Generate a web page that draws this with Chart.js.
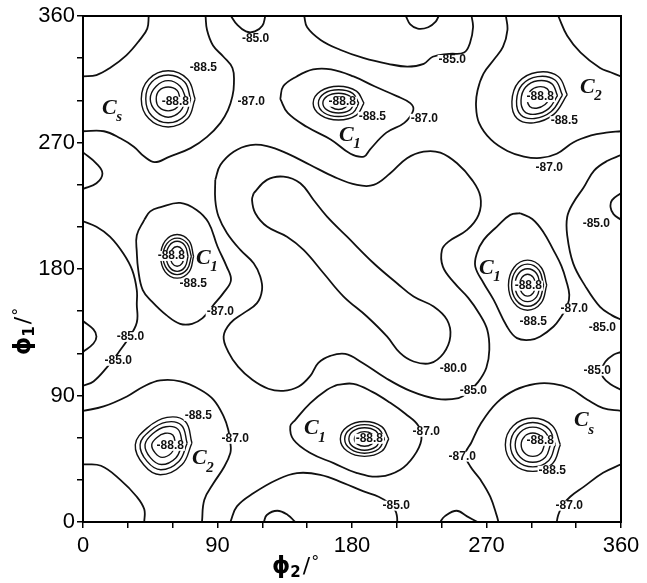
<!DOCTYPE html>
<html><head><meta charset="utf-8">
<script src="https://cdn.jsdelivr.net/npm/chart.js@4"></script>
<style>html,body{margin:0;padding:0;background:#fff}canvas{display:block}</style>
</head><body>
<canvas id="c" width="647" height="583"></canvas>
<script>
// ---- axis ticks (degrees) ----
const tickLabels = [0, 90, 180, 270, 360];
const tickStep = 30;

// ---- contour lines: [phi2, phi1] in degrees ----
const cornerTL = [[44,360],[43,351],[38,343],[29,332],[18,323],[9,318],[0,317]];
const cornerTR = [[318,360],[324,346],[333,334],[346,323],[353,320],[360,317]];
const csTLOuter = [[82,360],[83,350],[87,339],[94,331],[100,323],[101,312],[100,303],[97,293],[92,284],[83,274],[72,266],[58,260],[48,256],[41,260],[34,267],[25,273],[14,278],[0,278]];
const c2TROuter = [[283,360],[284,350],[281,338],[275,329],[268,319],[264,307],[263,296],[265,284],[273,272],[284,264],[295,260],[306,259],[317,262],[328,270],[340,275],[350,277],[360,278]];
const topBumpA = [[99,360],[103,354],[109,349],[115,349],[120,353],[122,360]];
const topU85 = [[148,360],[150,352],[159,343],[172,336],[188,330],[204,326],[217,324],[228,326],[234,331],[245,333],[255,334],[259,341],[261,352],[260,360]];
const topBumpB = [[216,360],[219,354],[224,351],[231,352],[236,356],[238,360]];
const c1TopOuter = [[132,301],[134,310],[143,317],[154,322],[166,322],[181,317],[195,310],[210,303],[219,298],[221,293],[215,284],[203,277],[192,265],[188,260],[179,262],[166,272],[150,281],[137,291],[132,301]];
const leftBumpUpper = [[0,263],[9,255],[13,248],[9,241],[0,237]];
const left85 = [[0,214],[9,210],[18,203],[27,191],[33,179],[36,165],[36,155],[36,142],[30,130],[24,121],[16,110],[7,100],[0,97]];
const leftBumpLower = [[0,143],[7,137],[9,132],[7,127],[0,121]];
const c1LeftOuter = [[41,215],[45,221],[52,224],[65,227],[76,222],[84,213],[90,196],[96,182],[99,172],[94,163],[87,154],[80,145],[73,141],[65,141],[56,147],[46,157],[40,165],[37,179],[36,192],[36,204],[41,215]];
const ridge85 = [[88.5,243.4],[91.9,254],[100.8,263.5],[112,268.2],[123.1,267.5],[136.5,262.3],[152.1,254],[167.7,245.7],[183.4,239.8],[194.5,239.8],[205.6,248.1],[216.8,258.8],[227.9,263.5],[239.1,262.8],[250.3,255.2],[260.3,243.4],[265.9,231.5],[264.7,218.5],[257,207.8],[244.6,199.5],[240.2,193.6],[240.8,181.7],[248.5,170.1],[257.8,159.5],[265.2,148.2],[270.5,136.8],[271.9,122.5],[269.9,109.7],[264.5,99.7],[257.8,92.6],[251.3,88.2],[236.9,87.6],[219,93.3],[202.3,102.6],[186.9,113.3],[175.5,119.6],[165.5,118.2],[157.5,113.2],[152.1,104],[144.1,96.2],[134,93.3],[124,94.8],[113.3,101.2],[103.9,110.4],[97.2,121.1],[94.1,132],[98.6,141.5],[107.5,148.6],[116.4,155.7],[119.8,165.2],[118.6,174.6],[114.2,184.1],[105.3,193.6],[96.4,205.5],[90.7,217.3],[88.5,229.1],[88.5,243.4]];
const ridge80 = [[114.2,233.9],[123.1,243.4],[134.2,245.7],[145.4,241],[154.3,229.1],[163.3,217.3],[176.7,203],[194.5,184.1],[210.1,169.9],[221.2,160.4],[234.6,153.3],[243.6,143.8],[245.8,132],[241.3,120.1],[232.4,113],[221.2,114.2],[212.3,120.1],[203.4,132],[190,146.2],[174.4,160.4],[161,177],[147.6,193.6],[136.5,203],[123.1,210.2],[115.3,219.7],[113.1,229.1],[114.2,233.9]];
const c1RightOuter = [[292.6,219.7],[300.6,215.6],[308,206.4],[314.7,193.6],[320.1,182.2],[323.4,171.5],[325.4,161.6],[324.1,153.8],[319.4,145.2],[314.9,139.1],[306,132],[299.3,129.6],[290.4,130.8],[283.7,139.1],[274.8,158],[268.1,169.9],[262.5,181.7],[263.6,191.2],[268.1,200.7],[277,210.2],[285.9,218.5],[292.6,219.7]];
const right85 = [[360,261],[351,257],[342,250],[335,238],[328,227],[324,217],[324,204],[328,184],[336,168],[346,153],[354,147],[360,144]];
const rightBumpUpper = [[360,234],[354,229],[353,224],[355,219],[360,215]];
const rightBumpLower = [[360,121],[355,119],[349.5,114],[347,108],[348,103],[353,98],[360,94]];
const csBROuter = [[360,79],[348,81],[337.5,87],[326,95],[315,98.3],[302.7,98.3],[289.3,94],[277,85],[266.5,70.6],[259.8,56.4],[255.8,48],[259.2,39.5],[266,30],[272.5,18],[277,4],[278,0]];
const c2BLOuter = [[0,79],[13.8,82.2],[29.4,89.3],[40.6,96.4],[51.7,100.7],[65.1,100],[78.5,94.1],[87.4,86.9],[94.1,75.1],[97.2,65.6],[98.6,56.4],[98.6,49.1],[94.1,38.6],[87.4,27.7],[81.2,15.9],[79.6,0]];
const cornerBL = [[0,41],[12,40],[25,30],[36,18],[41,9],[41,0]];
const cornerBR = [[360,41],[348,35],[335,25],[326,18],[321,12],[318,5],[317,0]];
const bottom85 = [[98.6,0],[103,11.1],[114.2,20.6],[129.8,30.1],[143.2,34.8],[158.8,33.6],[174.4,27.7],[187.8,21.8],[197.8,18],[204.3,13.7],[209,8],[210.1,4],[210.3,0]];
const bottomBumpA = [[121,0],[123,5],[130,8],[137,5],[142,0]];
const bottomBumpB = [[239,0],[242,4],[250,8],[257,4],[264,0]];
const c1BottomOuter = [[170,97.6],[180.9,98.3],[193.6,92.6],[205.6,84.8],[215.7,77],[224.4,68.5],[226.4,58.5],[221.2,46.6],[212.3,37.2],[198.9,32.4],[183.4,34.8],[167.7,41.9],[152.1,49.1],[140.9,58.5],[138.7,68],[142.1,72.7],[152.1,84.6],[163.3,94.1],[170,97.6]];

// ---- closed rings around the eight minima ----
const ringsCsTL = [
 [[75,301],[70,315],[57,321],[44,315],[39,301],[44,287],[57,281],[70,287],[75,301]],
 [[72,301],[68,313],[57,318],[46,313],[42,301],[46,289],[57,284],[68,289],[72,301]],
 [[69,301],[65,310],[57,314],[49,310],[45,301],[49,292],[57,288],[65,292],[69,301]],
 [[65,301],[63,307],[57,309.5],[51,307],[49,301],[51,295],[57,292.5],[63,295],[65,301]]];
const ringsC1Top = [
 [[188,298],[183,306.5],[171,310],[159,306.5],[154,298],[159,289.5],[171,286],[183,289.5],[188,298]],
 [[184.5,298],[180.5,305],[171,307.5],[161.5,305],[157.5,298],[161.5,291],[171,288.5],[180.5,291],[184.5,298]],
 [[181.5,298],[178.5,303],[171,305],[163.5,303],[160.5,298],[163.5,293],[171,291],[178.5,293],[181.5,298]],
 [[177.5,298],[175.5,301],[171,302.5],[166.5,301],[164.5,298],[166.5,295],[171,293.5],[175.5,295],[177.5,298]]];
const ringsC2TR = [
 [[324,304],[318,317],[304,320],[291.5,313],[287,299],[290.5,287],[301.5,284],[315,290],[324,304]],
 [[320.8,303.7],[315.8,314.5],[304.2,316.9],[293.8,311.1],[290.1,299.5],[293,289.5],[302.1,287.1],[313.3,292],[320.8,303.7]],
 [[317.5,303.3],[313.6,311.9],[304.3,313.9],[296.1,309.3],[293.1,300],[295.4,292.1],[302.7,290.1],[311.6,294.1],[317.5,303.3]],
 [[313,302.8],[310.5,308.3],[304.6,309.6],[299.3,306.6],[297.4,300.7],[298.9,295.7],[303.5,294.4],[309.2,297],[313,302.8]]];
const ringsC1Left = [
 [[74,189],[71,200],[63,204.5],[55,200],[52,189],[55,178],[63,173.5],[71,178],[74,189]],
 [[72.5,189],[69.7,198.2],[63,202],[56.3,198.2],[53.5,189],[56.3,179.8],[63,176],[69.7,179.8],[72.5,189]],
 [[70.3,189],[68.2,196.6],[63,199.7],[57.8,196.6],[55.7,189],[57.8,181.4],[63,178.3],[68.2,181.4],[70.3,189]],
 [[67.7,189],[66.3,194],[63,196],[59.7,194],[58.3,189],[59.7,184],[63,182],[66.3,184],[67.7,189]]];
const ringsC1Right = [
 [[310.3,168.5],[306.6,181.1],[297.5,186.3],[288.4,181.1],[284.7,168.5],[288.4,155.9],[297.5,150.7],[306.6,155.9],[310.3,168.5]],
 [[308.2,168.5],[305.1,179.2],[297.5,183.5],[289.9,179.2],[286.8,168.5],[289.9,157.8],[297.5,153.5],[305.1,157.8],[308.2,168.5]],
 [[305.9,168.5],[303.5,176.8],[297.5,180.2],[291.5,176.8],[289.1,168.5],[291.5,160.2],[297.5,156.8],[303.5,160.2],[305.9,168.5]],
 [[302.9,168.5],[301.3,174],[297.5,176.3],[293.7,174],[292.1,168.5],[293.7,163],[297.5,160.7],[301.3,163],[302.9,168.5]]];
const ringsC2BL = [
 [[72.9,56.2],[68.5,71.5],[56.2,74.4],[42.8,66.8],[35,55],[40.6,40.7],[51.7,33.6],[66.2,40.7],[72.9,56.2]],
 [[69.7,56],[66,68.7],[55.8,71.1],[44.7,64.8],[38.2,55],[42.9,43.1],[52.1,37.2],[64.1,43.1],[69.7,56]],
 [[66.5,55.8],[63.6,65.9],[55.5,67.8],[46.6,62.8],[41.5,55],[45.2,45.6],[52.5,40.9],[62.1,45.6],[66.5,55.8]],
 [[61.9,55.5],[60.1,61.9],[54.9,63.1],[49.3,60],[46,55],[48.4,49],[53,46],[59.1,49],[61.9,55.5]]];
const ringsC1Bottom = [
 [[204.6,59.1],[199.9,67.9],[188.4,71.5],[176.9,67.9],[172.2,59.1],[176.9,50.3],[188.4,46.7],[199.9,50.3],[204.6,59.1]],
 [[201.7,59.1],[197.8,66.3],[188.4,69.3],[179,66.3],[175.1,59.1],[179,51.9],[188.4,48.9],[197.8,51.9],[201.7,59.1]],
 [[198.9,59.1],[195.9,64.8],[188.4,67.1],[180.9,64.8],[177.9,59.1],[180.9,53.4],[188.4,51.1],[195.9,53.4],[198.9,59.1]],
 [[195.2,59.1],[193.2,62.8],[188.4,64.3],[183.6,62.8],[181.6,59.1],[183.6,55.4],[188.4,53.9],[193.2,55.4],[195.2,59.1]]];
const ringsCsBR = [
 [[319.4,55],[314.1,68.5],[301,74],[287.9,68.5],[282.6,55],[287.9,41.5],[301,36],[314.1,41.5],[319.4,55]],
 [[316,55],[311.7,66.2],[301,70.8],[290.3,66.2],[286,55],[290.3,43.8],[301,39.2],[311.7,43.8],[316,55]],
 [[312.8,55],[309.4,63.9],[301,67.5],[292.6,63.9],[289.2,55],[292.6,46.1],[301,42.5],[309.4,46.1],[312.8,55]],
 [[308.8,55],[306.5,60.9],[301,63.3],[295.5,60.9],[293.2,55],[295.5,49.1],[301,46.7],[306.5,49.1],[308.8,55]]];

// ---- contour level labels ----
const levelText = ["-85.0","-88.5","-88.8","-87.0","-85.0","-88.8","-88.5","-87.0","-88.8","-88.5","-87.0","-85.0","-88.8","-88.5","-87.0","-88.8","-88.5","-87.0","-85.0","-85.0","-85.0","-80.0","-85.0","-85.0","-88.5","-88.8","-87.0","-88.8","-87.0","-85.0","-88.8","-88.5","-87.0","-87.0"];
const levelPhi2 = [115.5,80.5,61.8,112.6,247.1,173.5,193.6,228.4,306,322.1,312,343.5,59.1,73.8,91.9,298,301.3,328.7,347.5,31.7,23.6,247.8,261.2,344.1,77.2,58.4,101.9,191.6,229.7,209.6,306,314,253.8,325.4];
const levelPhi1 = [344,322.9,299,299,328.7,299,288.3,286.9,302.3,285.2,251.9,212.1,189.3,169.4,149.5,168.1,142.5,151.8,138.1,131.7,114.7,109,93.3,107.6,75.6,54.2,59.2,59.2,64.2,11.6,57.8,36.5,46.5,11.6];

// ---- conformer labels ----
const confSub = ["s","1","2","1","1","1","2","s"];
const confPhi2 = [20.3,178.9,340.1,83.2,272.5,155.4,80.5,336.1];
const confPhi1 = [293.1,274,308,186.5,179.4,64.9,43.6,70.6];

const contourLines = [cornerTL,cornerTR,csTLOuter,c2TROuter,topBumpA,topU85,topBumpB,c1TopOuter,leftBumpUpper,left85,leftBumpLower,c1LeftOuter,ridge85,ridge80,c1RightOuter,right85,rightBumpUpper,rightBumpLower,csBROuter,c2BLOuter,cornerBL,cornerBR,bottom85,bottomBumpA,bottomBumpB,c1BottomOuter];
const wellRings = [].concat(ringsCsTL,ringsC1Top,ringsC2TR,ringsC1Left,ringsC1Right,ringsC2BL,ringsC1Bottom,ringsCsBR);

const mk = (pts, w) => ({data: pts.map(p => ({x:p[0], y:p[1]})), showLine:true, borderColor:'#111', borderWidth:w, pointRadius:0, tension:0.4, fill:false});
const datasets = contourLines.map(p => mk(p,1.8)).concat(wellRings.map(p => mk(p,1.4)));

const framePlugin = {
  id:'frame',
  afterDatasetsDraw(chart){
    const {ctx, chartArea:a} = chart;
    ctx.save(); ctx.strokeStyle='#000'; ctx.lineWidth=2;
    ctx.strokeRect(a.left, a.top, a.right-a.left, a.bottom-a.top);
    ctx.restore();
  }
};

function drawPhi(ctx, sub){
  let x = 0;
  ctx.textBaseline='middle'; ctx.textAlign='left'; ctx.fillStyle='#000';
  ctx.font='bold 23px "DejaVu Sans"'; ctx.fillText('\u03D5', x, 0); x += ctx.measureText('\u03D5').width;
  ctx.font='bold 15px "DejaVu Sans"'; ctx.fillText(sub, x, 6); x += ctx.measureText(sub).width + 2;
  ctx.font='22px "DejaVu Sans"'; ctx.fillText('/', x, 0); x += ctx.measureText('/').width + 1;
  ctx.font='16px "DejaVu Sans"'; ctx.fillText('\u00B0', x, -4);
}

const textPlugin = {
  id:'texts',
  afterDatasetsDraw(chart){
    const {ctx, scales:{x:sx, y:sy}} = chart;
    ctx.save();
    ctx.font='bold 12px "Liberation Sans"'; ctx.textAlign='center'; ctx.textBaseline='middle';
    levelText.forEach((t,i) => {
      const px = sx.getPixelForValue(levelPhi2[i]), py = sy.getPixelForValue(levelPhi1[i]);
      const w = ctx.measureText(t).width;
      ctx.fillStyle='#fff'; ctx.fillRect(px-w/2-1, py-5, w+2, 10);
      ctx.fillStyle='#111'; ctx.fillText(t, px, py);
    });
    confSub.forEach((s,i) => {
      const px = sx.getPixelForValue(confPhi2[i]), py = sy.getPixelForValue(confPhi1[i]);
      ctx.fillStyle='#111';
      ctx.font='italic bold 22px "Liberation Serif"'; ctx.textAlign='center'; ctx.textBaseline='middle';
      ctx.fillText('C', px-4, py-2);
      ctx.font='italic bold 15px "Liberation Serif"'; ctx.textAlign='left';
      ctx.fillText(s, px+3, py+7);
    });
    ctx.restore();
    ctx.save(); ctx.translate(272, 567); drawPhi(ctx,'2'); ctx.restore();
    ctx.save(); ctx.translate(24, 355); ctx.rotate(-Math.PI/2); drawPhi(ctx,'1'); ctx.restore();
  }
};

const axisCommon = {
  type:'linear', min:0, max:360,
  grid:{drawOnChartArea:false, drawTicks:true, tickLength:6, color:'#000', lineWidth:1.5},
  border:{display:true, color:'#000', width:2},
};

new Chart(document.getElementById('c').getContext('2d'), {
  type:'scatter',
  data:{datasets},
  options:{
    responsive:false, animation:false, devicePixelRatio:1,
    layout:{padding:{top:16, right:26, left:0, bottom:0}},
    plugins:{legend:{display:false}, tooltip:{enabled:false}},
    scales:{
      x:Object.assign({}, axisCommon, {
        afterFit(s){ s.height = 61; },
        ticks:{stepSize:tickStep, autoSkip:false, maxRotation:0, padding:5, color:'#000', font:{family:'Liberation Sans', size:22}, callback:v => tickLabels.includes(v) ? String(v) : ''}
      }),
      y:Object.assign({}, axisCommon, {
        afterFit(s){ s.width = 83; },
        ticks:{stepSize:tickStep, autoSkip:false, padding:2, color:'#000', font:{family:'Liberation Sans', size:22}, callback:v => tickLabels.includes(v) ? String(v) : ''}
      })
    }
  },
  plugins:[framePlugin, textPlugin]
});
</script>
</body></html>
